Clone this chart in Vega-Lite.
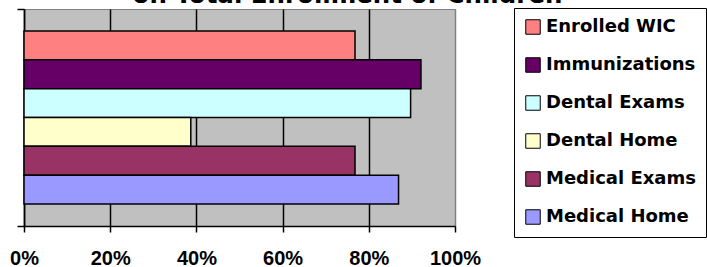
{
  "$schema": "https://vega.github.io/schema/vega-lite/v6.json",
  "width": 431,
  "height": 217,
  "autosize": {"type": "none"},
  "padding": {"left": 24, "top": 9, "right": 252, "bottom": 41},
  "background": "white",
  "title": {
    "text": "on Total Enrollment of Children",
    "font": "DejaVu Sans",
    "fontSize": 24.5,
    "fontWeight": "bold",
    "color": "black",
    "anchor": "middle",
    "baseline": "alphabetic",
    "offset": 0,
    "dy": 20,
    "dx": 108
  },
  "config": {
    "view": {"fill": "#C0C0C0", "stroke": "#808080", "strokeWidth": 1},
    "font": "Liberation Sans"
  },
  "data": {
    "values": [
      {"service": "Enrolled WIC", "pct": 0.768},
      {"service": "Immunizations", "pct": 0.921},
      {"service": "Dental Exams", "pct": 0.897},
      {"service": "Dental Home", "pct": 0.387},
      {"service": "Medical Exams", "pct": 0.768},
      {"service": "Medical Home", "pct": 0.869}
    ]
  },
  "layer": [
    {
      "mark": {"type": "bar", "stroke": "black", "strokeWidth": 1.5},
      "encoding": {
        "y": {
          "field": "service",
          "type": "nominal",
          "sort": ["Enrolled WIC", "Immunizations", "Dental Exams", "Dental Home", "Medical Exams", "Medical Home"],
          "scale": {"paddingInner": 0, "paddingOuter": 0.76},
          "axis": null
        },
        "x": {
          "field": "pct",
          "type": "quantitative",
          "scale": {"domain": [0, 1], "nice": false},
          "axis": {
            "values": [0, 0.2, 0.4, 0.6, 0.8, 1],
            "format": ".0%",
            "title": null,
            "domainColor": "black",
            "domainWidth": 1.5,
            "tickColor": "black",
            "tickWidth": 1.5,
            "tickSize": 6,
            "grid": true,
            "gridColor": {"condition": {"test": "datum.value === 1", "value": "#808080"}, "value": "black"},
            "gridWidth": 1.5,
            "gridOpacity": 1,
            "labelFont": "Liberation Sans",
            "labelFontSize": 20,
            "labelFontWeight": "bold",
            "labelColor": "black",
            "labelPadding": 16,
            "labelFlush": false
          }
        },
        "color": {
          "field": "service",
          "type": "nominal",
          "scale": {
            "domain": ["Enrolled WIC", "Immunizations", "Dental Exams", "Dental Home", "Medical Exams", "Medical Home"],
            "range": ["#FF8080", "#660066", "#CCFFFF", "#FFFFCC", "#993366", "#9999FF"]
          },
          "legend": {
            "title": null,
            "orient": "none",
            "legendX": 490,
            "legendY": -1,
            "direction": "vertical",
            "symbolType": "square",
            "symbolSize": 210,
            "symbolStrokeColor": "black",
            "symbolStrokeWidth": 1,
            "symbolOpacity": 1,
            "labelFont": "DejaVu Sans",
            "labelFontSize": 18,
            "labelFontWeight": "bold",
            "labelColor": "black",
            "labelOffset": 4,
            "rowPadding": 18,
            "padding": 10,
            "strokeColor": "black",
            "fillColor": "white"
          }
        }
      }
    },
    {
      "mark": {"type": "rule", "opacity": 0},
      "encoding": {
        "y": {
          "datum": 0.5,
          "type": "quantitative",
          "scale": {"domain": [0, 1], "nice": false},
          "axis": {
            "values": [0, 1],
            "labels": false,
            "title": null,
            "grid": false,
            "domainColor": "black",
            "domainWidth": 1.5,
            "tickColor": "black",
            "tickWidth": 1.5,
            "tickSize": 7
          }
        }
      }
    }
  ],
  "resolve": {"scale": {"y": "independent"}}
}
